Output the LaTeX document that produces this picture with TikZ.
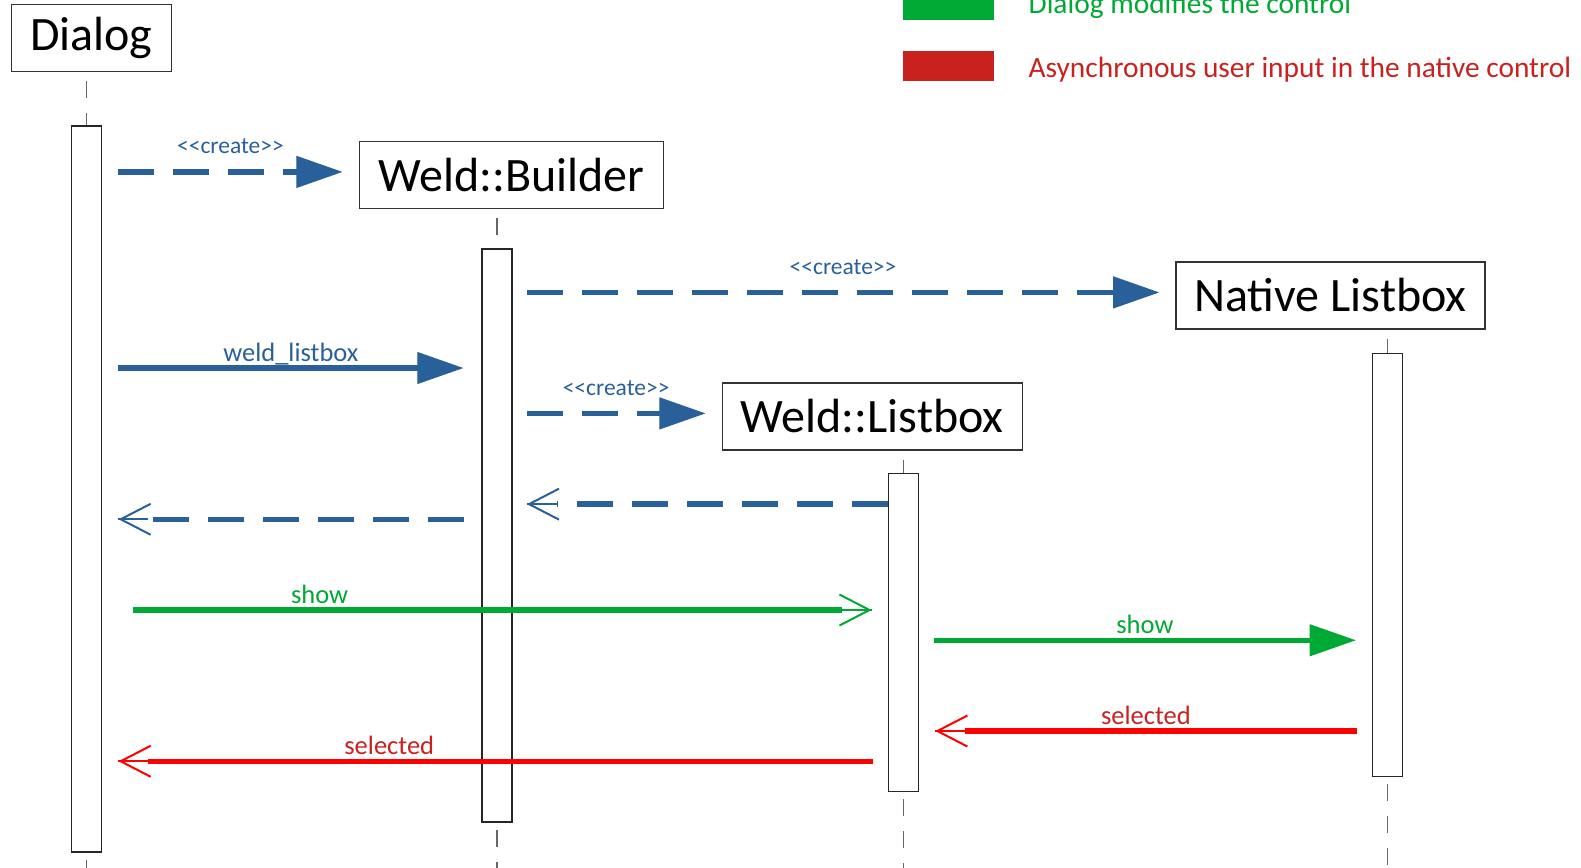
\documentclass[tikz,border=0pt]{standalone}
\usepackage{fontspec}
\setmainfont{Carlito}
\usetikzlibrary{positioning,arrows.meta,calc}

\definecolor{umlblue}{HTML}{2A6099}
\definecolor{umlgreen}{HTML}{00A933}
\definecolor{umlred}{HTML}{FF0000}
\definecolor{umldarkred}{HTML}{C9211E}

\begin{document}
\begin{tikzpicture}[
        x=1.0083pt, y=-1.0083pt,
        head/.style={
            draw=black!80,
            line width=1.3pt,
            minimum height=67pt,
            inner sep=0pt,
            font=\fontsize{48}{56}\selectfont
        },
        bar/.style={draw=black!85, fill=white, line width=1.3pt, minimum width=30pt, inner sep=0pt},
        lifeline/.style={draw=black!60, line width=1.3pt, dash pattern=on 17pt off 15pt},
        fullhead/.style={-{Triangle[length=46pt,width=32pt,line width=1pt]}},
        openhead/.style={-{Straight Barb[length=30pt,width=31pt,line width=2pt,sep=-30pt]Rectangle[length=30pt,width=2pt,line width=0pt]}},
        msg/.style={line width=5.5pt},
        create/.style={msg, fullhead, draw=umlblue, dash pattern=on 36pt off 19pt},
        call/.style={msg, fullhead, draw=umlblue},
        reply/.style={msg, openhead, draw=umlblue, dash pattern=on 36pt off 19pt},
        lbl/.style={anchor=base, yshift=7pt, font=\fontsize{26.5}{32}\selectfont},
        crlbl/.style={anchor=base, yshift=18pt, font=\fontsize{23.5}{28}\selectfont, text=umlblue},
        legendkey/.style={minimum width=91pt, minimum height=30pt, inner sep=0pt},
        legendtext/.style={anchor=base west, inner sep=0pt, font=\fontsize{29.4}{35}\selectfont}
    ]

    \useasboundingbox (0,0) rectangle (1568,860);
    \clip (0,0) rectangle (1568,860);

    % Step 1: legend
    \node[legendkey, fill=umlgreen] (keygreen) at (941,4.5) {};
    \node[legendkey, fill=umldarkred] (keyred) at (941,65) {};
    \node[legendtext, text=umlgreen] (txtgreen) at (1020,13) {Dialog modifies the control};
    \node[legendtext, text=umldarkred] (txtred) at (1020,77) {Asynchronous user input in the native control};

    % Step 2: participants
    \node[head, minimum width=160pt] (dlg) at (90.5,38) {Dialog};
    \node[head, minimum width=304pt] (bld) at (507,173.5) {Weld::Builder};
    \node[head, minimum width=309pt] (nlb) at (1319.5,293) {Native Listbox};
    \node[head, minimum width=300pt] (wlb) at (865,413) {Weld::Listbox};

    % Step 3: lifelines and activations
    \coordinate (foot) at (0,870);
    \node[bar, minimum height=726pt] (dlgbar) at (86,485) {};
    \node[bar, minimum height=573pt] (bldbar) at (493,531) {};
    \node[bar, minimum height=318pt] (wlbar) at (896,627.5) {};
    \node[bar, minimum height=423pt] (nlbar) at (1376,560) {};

    \foreach \h/\b in {dlg/dlgbar, bld/bldbar, wlb/wlbar, nlb/nlbar} {
        \draw[lifeline, shorten <=9pt] (\b.north |- \h.south) -- (\b.north);
        \draw[lifeline, shorten <=7pt] (\b.south) -- (\b.south |- foot);
    }

    % Step 4: messages
    \coordinate (l3) at (0,365);
    \coordinate (l5) at (0,500);
    \coordinate (l6) at (0,515);
    \coordinate (l7) at (0,605);
    \coordinate (l8) at (0,635);
    \coordinate (l9) at (0,725);
    \coordinate (l10) at (0,755);

    \draw[create] ($(dlgbar.east |- bld.west)+(16,-3)$)
        -- node[crlbl] {<{}<create>{}>} ($(bld.west)+(-16,-3)$);
    \draw[create] ($(bldbar.east |- nlb.west)+(14,-3)$)
        -- node[crlbl] {<{}<create>{}>} ($(nlb.west)+(-16,-3)$);
    \draw[call] ($(dlgbar.east |- l3)+(16,0)$)
        -- node[lbl, text=umlblue] {weld\_listbox} ($(bldbar.west |- l3)+(-18,0)$);
    \draw[create] ($(bldbar.east |- wlb.west)+(14,-3)$)
        -- node[crlbl] {<{}<create>{}>} ($(wlb.west)+(-16,-3)$);

    \draw[reply] (wlbar.west |- l5) -- ($(bldbar.east |- l5)+(14,0)$);
    \draw[reply] ($(bldbar.west |- l6)+(-17,0)$) -- ($(dlgbar.east |- l6)+(16,0)$);

    \draw[msg, openhead, draw=umlgreen] ($(dlgbar.east |- l7)+(30,0)$)
        -- node[lbl, pos=0.253, text=umlgreen] {show} ($(wlbar.west |- l7)+(-16,0)$);
    \draw[msg, fullhead, draw=umlgreen, fill=umlgreen] ($(wlbar.east |- l8)+(15,0)$)
        -- node[lbl, text=umlgreen] {show} ($(nlbar.west |- l8)+(-16,0)$);

    \draw[msg, openhead, draw=umlred] ($(nlbar.west |- l9)+(-15,0)$)
        -- node[lbl, text=umldarkred] {selected} ($(wlbar.east |- l9)+(16,0)$);
    \draw[msg, openhead, draw=umlred] ($(wlbar.west |- l10)+(-15,0)$)
        -- node[lbl, pos=0.641, text=umldarkred] {selected} ($(dlgbar.east |- l10)+(16,0)$);

\end{tikzpicture}
\end{document}
